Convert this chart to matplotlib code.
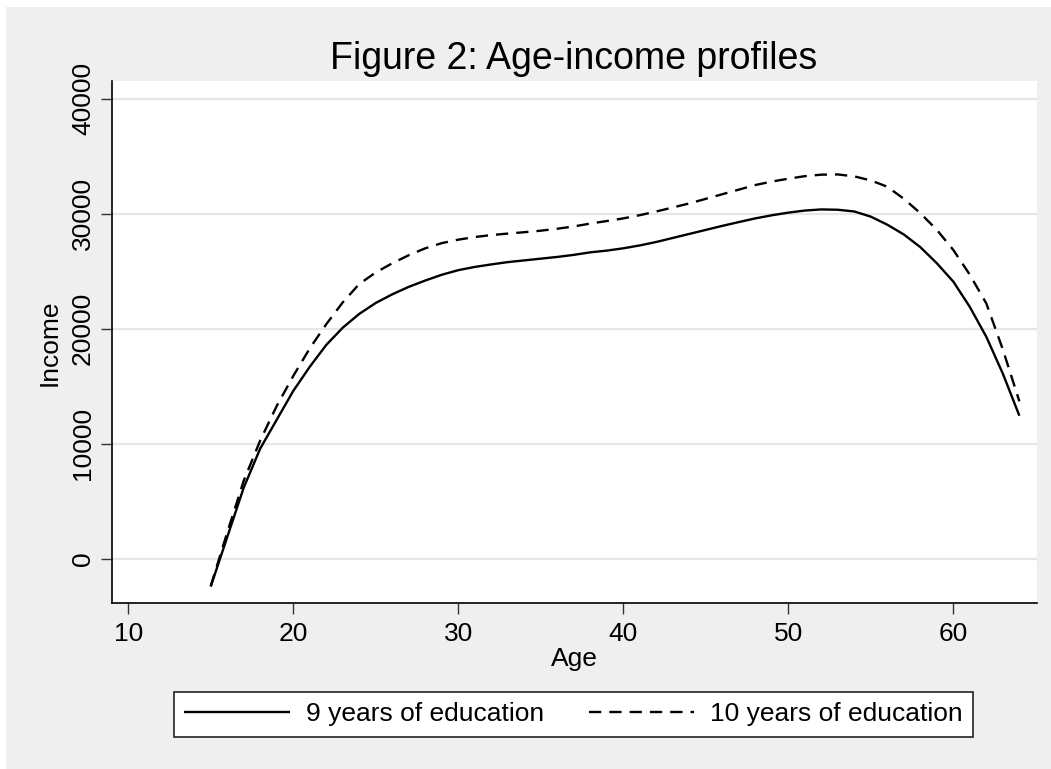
import matplotlib.pyplot as plt
from matplotlib.patches import Rectangle

plt.rcParams['font.family'] = ['Liberation Sans', 'DejaVu Sans']

# age-income profiles
ages = list(range(15, 65))
income_9 = [-2400, 1900, 6200, 9600, 12100, 14600, 16700, 18600, 20100, 21300,
            22250, 23000, 23650, 24200, 24700, 25100, 25380, 25600, 25800, 25950,
            26100, 26250, 26430, 26650, 26800, 27000, 27250, 27550, 27900, 28250,
            28600, 28950, 29280, 29600, 29870, 30100, 30280, 30380, 30350, 30200,
            29750, 29050, 28200, 27100, 25700, 24100, 21900, 19300, 16100, 12450]
income_10 = [-2350, 2300, 6800, 10300, 13300, 15900, 18300, 20400, 22300, 23900,
             24900, 25700, 26400, 27000, 27450, 27750, 27980, 28150, 28280, 28400,
             28530, 28700, 28900, 29150, 29370, 29600, 29880, 30200, 30550, 30900,
             31300, 31700, 32100, 32500, 32800, 33050, 33270, 33400, 33420, 33250,
             32900, 32350, 31300, 30050, 28600, 26850, 24700, 22200, 18200, 13700]
labels = ['9 years of education', '10 years of education']
xticks = [10, 20, 30, 40, 50, 60]
yticks = [0, 10000, 20000, 30000, 40000]

W, H = 1051, 769
fig = plt.figure(figsize=(W / 100, H / 100), dpi=100, facecolor='white')
# stata-like grey graph region
fig.patches.append(Rectangle((6 / W, 0), 1 - 6 / W, 762 / H, transform=fig.transFigure,
                             facecolor='#efefef', edgecolor='none', zorder=-5))

ax = fig.add_axes([111.7 / W, 1 - 602.7 / H, 925 / W, 521.7 / H])
ax.set_facecolor('white')

l1, = ax.plot(ages, income_9, color='black', lw=1.7, solid_capstyle='butt')
l2, = ax.plot(ages, income_10, color='black', lw=1.7, linestyle=(0, (5.2, 3.4)))

ax.set_xlim(9, 65.05)
ax.set_ylim(-3800, 41540)
ax.set_xticks(xticks)
ax.set_yticks(yticks)
ax.set_yticklabels([str(v) for v in yticks], rotation=90, va='center')
ax.tick_params(axis='both', length=8, width=1, color='#333333', labelsize=19)
ax.tick_params(axis='x', pad=6)
ax.tick_params(axis='y', pad=4)

for s in ['top', 'right']:
    ax.spines[s].set_visible(False)
for s in ['left', 'bottom']:
    ax.spines[s].set_linewidth(1.2)
    ax.spines[s].set_color('black')

ax.grid(axis='y', color='#e6e6e6', lw=1.6)
ax.set_axisbelow(True)

fig.text(574 / W, 1 - 69 / H, 'Figure 2: Age-income profiles', ha='center', va='baseline', fontsize=27)
fig.text(574 / W, 1 - 666 / H, 'Age', ha='center', va='baseline', fontsize=19)
fig.text(50 / W, 1 - 343 / H, 'Income', ha='center', va='center', rotation=90, fontsize=19)

leg = fig.legend([l1, l2], labels, loc='center', bbox_to_anchor=(573.5 / W, 1 - 714.5 / H),
                 ncol=2, fontsize=19, frameon=True, fancybox=False, framealpha=1,
                 edgecolor='#222222', handlelength=4.0, handletextpad=0.6,
                 columnspacing=1.7, borderpad=0.4, borderaxespad=0)
leg.get_frame().set_linewidth(1.2)

fig.savefig('out.png', dpi=100, facecolor=fig.get_facecolor())
